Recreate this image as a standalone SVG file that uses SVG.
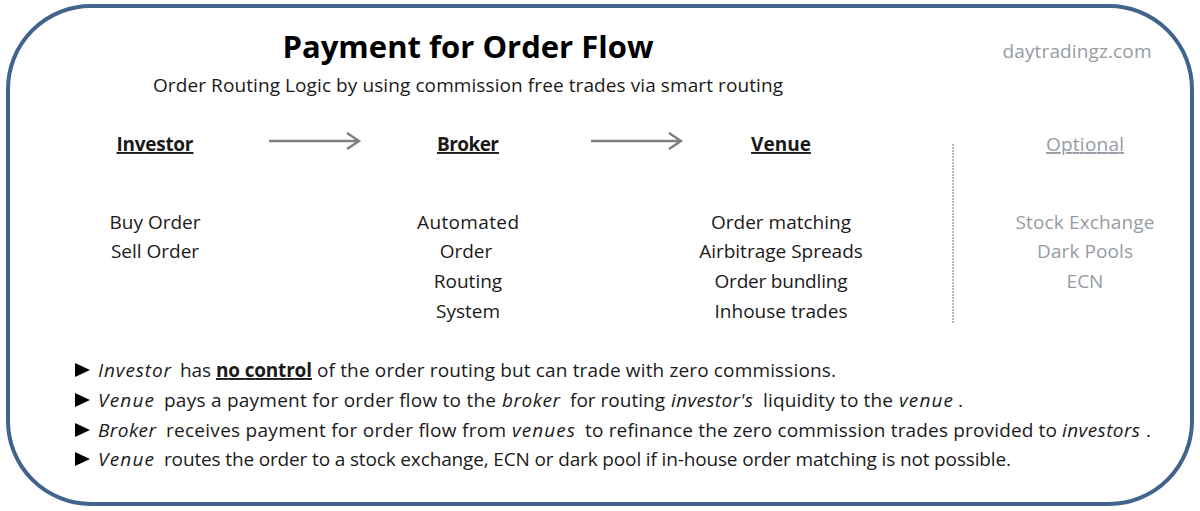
<svg xmlns="http://www.w3.org/2000/svg" width="1200" height="511" viewBox="0 0 1200 511">
<style>
text{font-family:"Open Sans","Noto Sans",sans-serif;font-size:19px;fill:#1a1a1a}
.c{text-anchor:middle}
.h{font-weight:700;text-decoration:underline}
.g{fill:#969ba3}
.i{font-style:italic}
.a{fill:none;stroke:#7f7f7f;stroke-width:2.4}
.b{fill:#000}
</style>
<rect width="1200" height="511" fill="#fff"/>
<rect x="8" y="6" width="1184" height="498" rx="83" fill="#fff" stroke="#41648f" stroke-width="4"/>
<text x="468" y="58" class="c" textLength="371" style="font-size:31px;font-weight:700;fill:#000">Payment for Order Flow</text>
<text x="468" y="92" class="c" textLength="630">Order Routing Logic by using commission free trades via smart routing</text>
<text x="1077" y="58" class="c g" textLength="149">daytradingz.com</text>
<g id="connectors">
<path class="a" d="M269 141H359M347 133L359 141L347 149"/>
<path class="a" d="M591 141H681M669 133L681 141L669 149"/>
<path d="M953 144V324" stroke="#8c8c8c" stroke-width="1.2" stroke-dasharray="2 1" fill="none"/>
</g>
<g id="investor"><text x="155" y="151" class="c h" textLength="77">Investor</text><text x="155" y="229" class="c">Buy Order</text><text x="155" y="258" class="c">Sell Order</text></g>
<g id="broker"><text x="468" y="151" class="c h" textLength="62">Broker</text><text x="468" y="229" class="c" textLength="102">Automated</text><text x="466" y="258" class="c">Order</text><text x="468" y="288" class="c">Routing</text><text x="468" y="318" class="c">System</text></g>
<g id="venue"><text x="781" y="151" class="c h">Venue</text><text x="781" y="229" class="c">Order matching</text><text x="781" y="258" class="c">Airbitrage Spreads</text><text x="781" y="288" class="c" textLength="133">Order bundling</text><text x="781" y="318" class="c" textLength="133">Inhouse trades</text></g>
<g id="optional"><text x="1085" y="151" class="c g" style="text-decoration:underline" textLength="78">Optional</text><text x="1085" y="229" class="c g" textLength="139">Stock Exchange</text><text x="1085" y="258" class="c g" textLength="96">Dark Pools</text><text x="1085" y="288" class="c g">ECN</text></g>
<g id="notes">
<g class="b"><path d="M75 363L90 370L75 377Z"/><path d="M75 393L90 400L75 407Z"/><path d="M75 423L90 430L75 437Z"/><path d="M75 452L90 459L75 466Z"/></g>
<text y="377"><tspan x="98" class="i" textLength="73">Investor</tspan><tspan x="180" textLength="31">has</tspan><tspan x="216" font-weight="700" text-decoration="underline" textLength="96">no control</tspan><tspan x="317" textLength="519">of the order routing but can trade with zero commissions.</tspan></text>
<text y="407"><tspan x="98" class="i" textLength="56">Venue</tspan><tspan x="164" textLength="332">pays a payment for order flow to the</tspan><tspan x="502" class="i" textLength="58">broker</tspan><tspan x="570" textLength="95">for routing</tspan><tspan x="671" class="i" textLength="82">investor's</tspan><tspan x="763" textLength="130">liquidity to the</tspan><tspan x="899" class="i" textLength="54">venue</tspan><tspan x="958">.</tspan></text>
<text y="437"><tspan x="98" class="i" textLength="58">Broker</tspan><tspan x="166" textLength="340">receives payment for order flow from</tspan><tspan x="512" class="i" textLength="63">venues</tspan><tspan x="585" textLength="472">to refinance the zero commission trades provided to</tspan><tspan x="1062" class="i" textLength="78">investors</tspan><tspan x="1146">.</tspan></text>
<text y="466"><tspan x="98" class="i" textLength="56">Venue</tspan><tspan x="164" textLength="847">routes the order to a stock exchange, ECN or dark pool if in-house order matching is not possible.</tspan></text>
</g>
</svg>
